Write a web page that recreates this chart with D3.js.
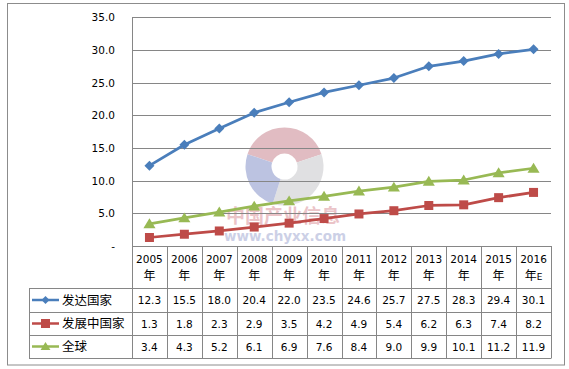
<!DOCTYPE html>
<html><head><meta charset="utf-8">
<script src="https://cdn.jsdelivr.net/npm/d3@7"></script>
<style>
html,body{margin:0;padding:0;background:#fff;}
svg{display:block;}
</style></head>
<body>
<svg id="c" width="569" height="369"></svg>
<script>
const years = ["2005","2006","2007","2008","2009","2010","2011","2012","2013","2014","2015","2016"];
const yearSuffix = ["年","年","年","年","年","年","年","年","年","年","年","年E"];
const seriesNames = ["发达国家","发展中国家","全球"];
const developed = [12.3,15.5,18.0,20.4,22.0,23.5,24.6,25.7,27.5,28.3,29.4,30.1];
const developing = [1.3,1.8,2.3,2.9,3.5,4.2,4.9,5.4,6.2,6.3,7.4,8.2];
const world = [3.4,4.3,5.2,6.1,6.9,7.6,8.4,9.0,9.9,10.1,11.2,11.9];
const yTicks = [0,5,10,15,20,25,30,35];
const colors = ["#4A7EBB","#BE4B48","#98B954"];
const markers = ["diamond","square","triangle"];

const series = [developed, developing, world];
const svg = d3.select("#c");
const numFont = "'DejaVu Sans', Verdana, sans-serif";
const cjkFont = "'Noto Sans CJK SC', sans-serif";
const gridColor = "#868686";

// outer border
svg.append("rect").attr("x",7.5).attr("y",3.5).attr("width",557).attr("height",361.5)
  .attr("fill","#fff").attr("stroke","#8c8c8c").attr("stroke-width",1);

const x = d3.scaleBand().domain(years).range([132,551]).padding(0);
const y = d3.scaleLinear().domain([0,35]).range([246,17.3]);

// watermark
const wm = svg.append("g").attr("opacity",0.5);
const cx = 284.5, cy = 166.5;
const arc = d3.arc();
wm.append("path").attr("transform",`translate(${cx},${cy})`)
  .attr("d",arc({innerRadius:13,outerRadius:39,startAngle:-1.25,endAngle:1.25})).attr("fill","#c47c87");
wm.append("path").attr("transform",`translate(${cx},${cy})`)
  .attr("d",arc({innerRadius:13,outerRadius:39,startAngle:1.25,endAngle:3.45})).attr("fill","#c2c2c6");
wm.append("path").attr("transform",`translate(${cx},${cy})`)
  .attr("d",arc({innerRadius:13,outerRadius:39,startAngle:3.45,endAngle:2*Math.PI-1.25})).attr("fill","#7b88c4");
wm.append("text").attr("x",283).attr("y",223).attr("text-anchor","middle")
  .attr("font-family",cjkFont).attr("font-weight","bold").attr("font-size",19)
  .attr("fill","#d88a93").text("中国产业信息");
wm.append("text").attr("x",285).attr("y",241).attr("text-anchor","middle")
  .attr("font-family","'DejaVu Sans', sans-serif").attr("font-weight","bold").attr("font-size",13.5)
  .attr("fill","#9aa3cf").text("www.chyxx.com");

// gridlines
svg.append("g").selectAll("line").data(yTicks.filter(d=>d>0)).join("line")
  .attr("x1",132).attr("x2",551)
  .attr("y1",d=>Math.round(y(d))+0.5).attr("y2",d=>Math.round(y(d))+0.5)
  .attr("stroke",gridColor).attr("stroke-width",1);
// y axis line
svg.append("line").attr("x1",132.5).attr("x2",132.5).attr("y1",Math.round(y(35))+0.5).attr("y2",358.5)
  .attr("stroke",gridColor);

// y labels
svg.append("g").selectAll("text").data(yTicks).join("text")
  .attr("x",115).attr("y",d=>y(d)+4)
  .attr("text-anchor","end").attr("font-family",numFont).attr("font-size",10.5).attr("fill","#000")
  .text(d=>d===0?"-":d.toFixed(1));

// table
const rowY = [246,288,312,335,358];
const tbl = svg.append("g");
rowY.forEach((ry,i)=>{
  tbl.append("line").attr("x1",i===0?132:29).attr("x2",551)
    .attr("y1",ry+0.5).attr("y2",ry+0.5).attr("stroke",gridColor);
});
tbl.append("line").attr("x1",29.5).attr("x2",29.5).attr("y1",288).attr("y2",358.5).attr("stroke",gridColor);
years.forEach(yr=>{
  const xr = Math.round(x(yr)+x.bandwidth())+0.5;
  tbl.append("line").attr("x1",xr).attr("x2",xr).attr("y1",246).attr("y2",358.5).attr("stroke",gridColor);
});
// header
years.forEach((yr,i)=>{
  const xc = x(yr)+x.bandwidth()/2;
  tbl.append("text").attr("x",xc).attr("y",263).attr("text-anchor","middle")
    .attr("font-family",numFont).attr("font-size",10.5).attr("fill","#000").text(yr);
  const t = tbl.append("text").attr("x",xc).attr("y",279.5).attr("text-anchor","middle")
    .attr("font-family",cjkFont).attr("font-size",12).attr("fill","#000");
  t.append("tspan").text("年");
  if (yearSuffix[i].length>1) t.append("tspan").attr("font-family",numFont).attr("font-size",9).text(yearSuffix[i].slice(1));
});
// values
const rowCenters = [300,323.5,346.5];
series.forEach((s,si)=>{
  tbl.append("g").selectAll("text").data(s).join("text")
    .attr("x",(d,i)=>x(years[i])+x.bandwidth()/2).attr("y",rowCenters[si]+4)
    .attr("text-anchor","middle").attr("font-family",numFont).attr("font-size",10.5).attr("fill","#000")
    .text(d=>d.toFixed(1));
});

function markerPath(type, s){
  if(type==="diamond") return `M0,${-s}L${s},0L0,${s}L${-s},0Z`;
  if(type==="square") return `M${-s},${-s}H${s}V${s}H${-s}Z`;
  return `M0,${-s}L${s*1.1},${s*0.8}L${-s*1.1},${s*0.8}Z`;
}

// legend in table
seriesNames.forEach((n,si)=>{
  const cyL = rowCenters[si];
  tbl.append("line").attr("x1",32).attr("x2",59).attr("y1",cyL).attr("y2",cyL)
    .attr("stroke",colors[si]).attr("stroke-width",2.5);
  tbl.append("path").attr("transform",`translate(45.5,${cyL})`)
    .attr("d",markerPath(markers[si], si===0?4:4.5)).attr("fill",colors[si]);
  tbl.append("text").attr("x",62).attr("y",cyL+4.5).attr("font-family",cjkFont).attr("font-size",12.5)
    .attr("fill","#000").text(n);
});

// lines
const line = d3.line().x((d,i)=>x(years[i])+x.bandwidth()/2).y(d=>y(d));
series.forEach((s,si)=>{
  svg.append("path").datum(s).attr("d",line).attr("fill","none")
    .attr("stroke",colors[si]).attr("stroke-width",2.75).attr("stroke-linejoin","round");
  svg.append("g").selectAll("path").data(s).join("path")
    .attr("transform",(d,i)=>`translate(${x(years[i])+x.bandwidth()/2},${y(d)})`)
    .attr("d",markerPath(markers[si], si===0?5:(si===1?4.5:5.5))).attr("fill",colors[si]);
});
</script>
</body></html>
